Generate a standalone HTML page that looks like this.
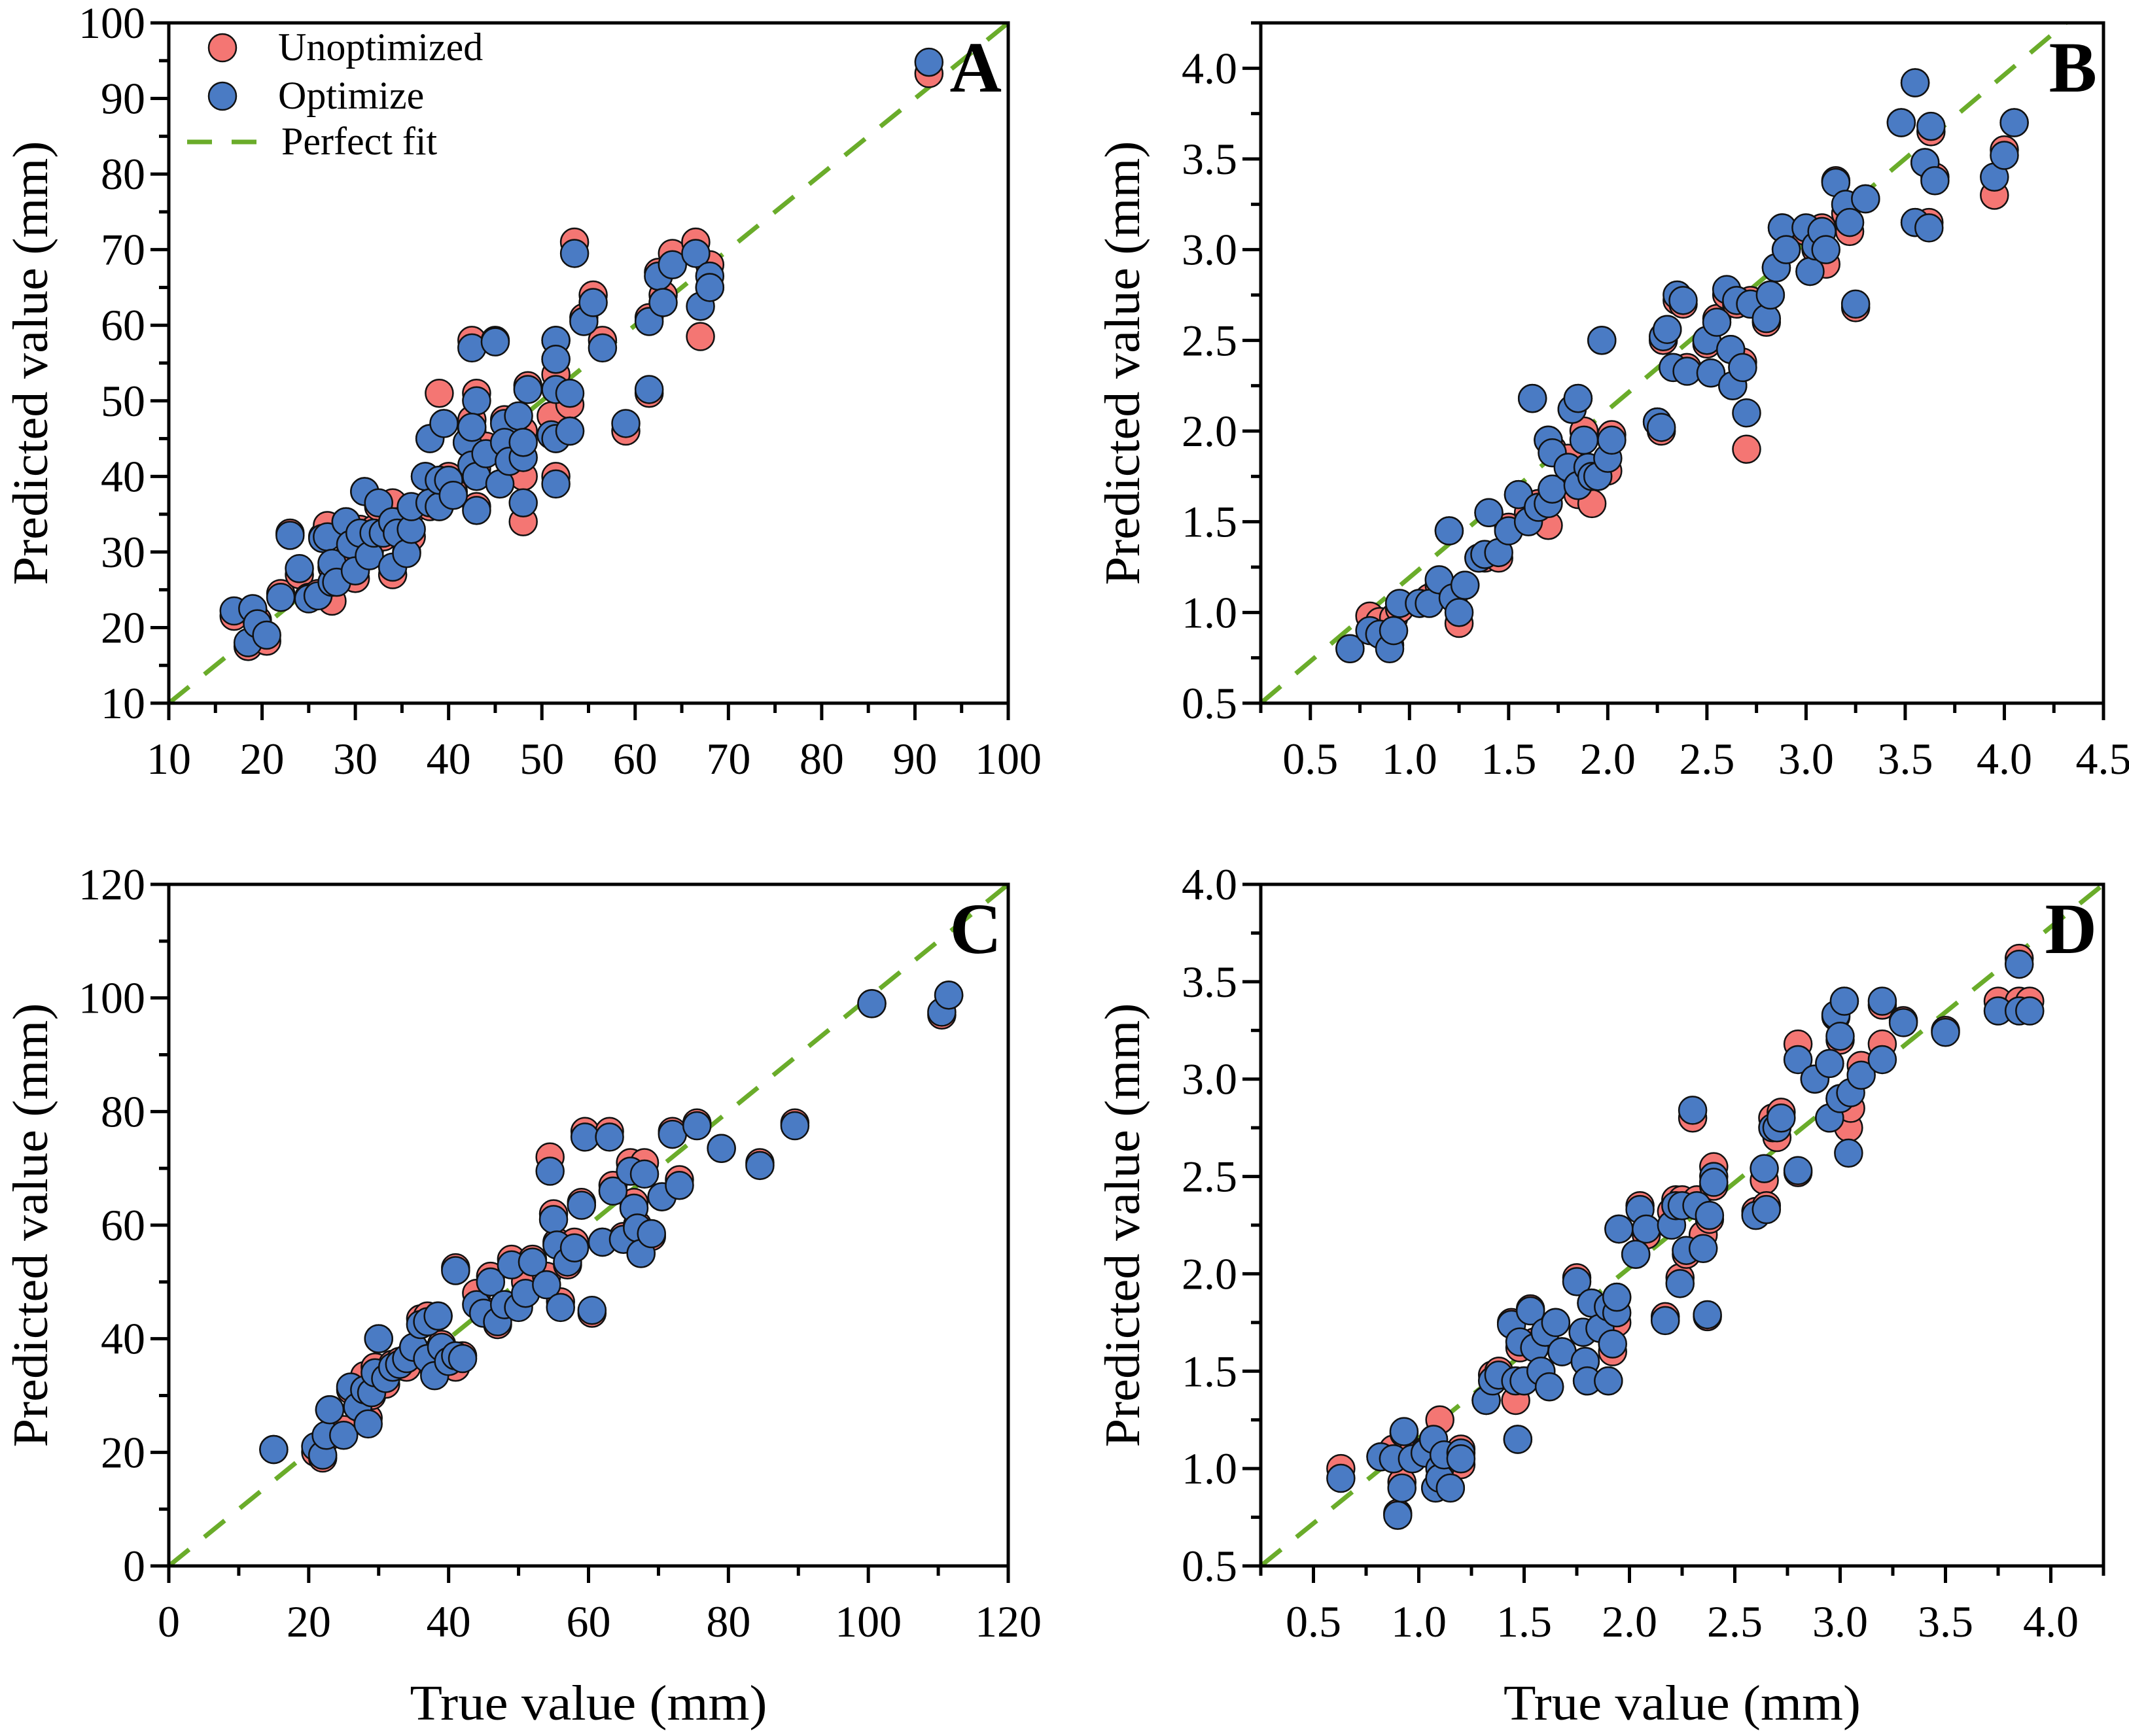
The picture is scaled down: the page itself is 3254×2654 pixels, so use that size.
<!DOCTYPE html>
<html><head><meta charset="utf-8"><style>
html,body{margin:0;padding:0;background:#fff}
svg{display:block}
text{font-family:"Liberation Serif","Times New Roman",serif;fill:#000}
</style></head><body>
<svg id="chart" width="3254" height="2654" viewBox="0 0 3254 2654" xmlns="http://www.w3.org/2000/svg"></svg>
<script>
// Panel A data
const aTrue=[91.5,17,18.5,19,19.5,20.5,22,23,24,25,26,26.5,27,27.5,27.5,28,29,29.5,30,30.5,31,31.5,32,32.5,33,34,34,34.5,35.5,36,36,37.5,38,38,39,39,39.5,40,40.5,42,42.5,42.5,43,42.5,43,43,44,45,45.5,46,46,46.5,47.5,48,48,48.5,48,51,51.5,51.5,51.5,51.5,51.5,53,53,53.5,54.5,55.5,56.5,59,61.5,61.5,62.5,63,64,66.5,67,68,68];
const aUnopt=[93.3,21.5,17.5,22,21,18.2,24.5,32.5,27,24,24.5,32,33.5,23.5,28,26.5,34,30,26.5,33,38,30,33,36,32,36.5,27,34,30,32,35.5,40,36,45,36,51,47,40,38,44.5,58,47.5,51,46,36,41,44,58,39,47.5,44,42,47,40,34,52,46,48,53.5,58,40,45,55.5,49.5,46,71,61,64,58,46,51,61,67,64,69.5,71,58.5,68,65];
const aOpt=[94.8,22.2,18,22.5,20.5,19,24,32.2,27.8,23.8,24.2,31.8,32,26,28.5,26,34,31,27.5,32.5,38,29.5,32.5,36.5,32.5,34,28,32.5,29.8,33,36,40,36.5,45,36,39.5,47,39.5,37.5,44.5,57,41.5,50,46.5,35.5,40,43,57.8,39,47,44.5,42,48,42.5,36.5,51.5,44.5,45.5,51.5,58,39,45,55.5,51,46,69.5,60.5,63,57,47,51.5,60.5,66.5,63,68,69.5,62.5,66.5,65];
// Panel B data
const bTrue=[0.7,0.8,0.85,0.9,0.92,0.95,1.05,1.1,1.15,1.2,1.22,1.25,1.28,1.35,1.4,1.38,1.45,1.5,1.55,1.6,1.62,1.65,1.7,1.7,1.72,1.72,1.8,1.82,1.85,1.85,1.88,1.9,1.92,1.95,1.97,2.0,2.02,2.25,2.27,2.28,2.3,2.33,2.35,2.38,2.4,2.5,2.52,2.55,2.6,2.62,2.63,2.65,2.68,2.7,2.72,2.8,2.82,2.85,2.88,2.9,3.0,3.02,3.05,3.08,3.1,3.15,3.2,3.22,3.25,3.3,3.48,3.55,3.55,3.6,3.62,3.63,3.65,3.95,4.0,4.05];
const bUnopt=[0.8,0.98,0.95,0.82,0.97,1.02,1.05,1.08,1.15,1.45,1.1,0.94,1.15,1.3,1.55,1.3,1.3,1.47,1.65,1.55,2.18,1.6,1.48,1.95,1.9,1.68,1.85,2.12,2.18,1.65,2.0,1.8,1.6,1.75,2.5,1.78,1.98,2.05,2.0,2.5,2.56,2.35,2.72,2.7,2.35,2.48,2.32,2.62,2.75,2.45,2.25,2.7,2.38,1.9,2.72,2.6,2.75,2.9,3.12,3.0,3.1,2.88,3.0,3.12,2.92,3.38,3.2,3.1,2.68,3.28,3.7,3.92,3.15,3.48,3.15,3.65,3.4,3.3,3.55,3.7];
const bOpt=[0.8,0.9,0.88,0.8,0.9,1.05,1.05,1.05,1.18,1.45,1.08,1.0,1.15,1.3,1.55,1.32,1.33,1.45,1.65,1.5,2.18,1.58,1.6,1.95,1.88,1.68,1.8,2.12,2.18,1.7,1.95,1.8,1.75,1.75,2.5,1.85,1.95,2.05,2.02,2.52,2.56,2.35,2.75,2.72,2.33,2.5,2.32,2.6,2.78,2.45,2.25,2.72,2.35,2.1,2.7,2.62,2.75,2.9,3.12,3.0,3.12,2.88,3.02,3.1,3.0,3.37,3.25,3.15,2.7,3.28,3.7,3.92,3.15,3.48,3.12,3.68,3.38,3.4,3.52,3.7];
// Panel C data
const cTrue=[15,21,22,22.5,23,25,26,27,28,28.5,29,29.5,30,31,32,33,34,35,36,37,37,38,38.5,39,40,41,41,42,44,45,46,47,48,49,50,51,52,54,54.5,55,55.5,56,57,58,59,59.5,60.5,62,63,63.5,65,66,66.5,67,67.5,68,69,70.5,72,73,75.5,79,84.5,89.5,100.5,110.5,111.5];
const cUnopt=[20.5,20,19,22.5,27.5,24,31,28,33.5,26,30,35,40,32,35.5,36,35,38.5,43.5,44,37,34,44,39,36,35,52.5,37,48,45,51,42.5,46,54,46,50,54,51,72,62,57,46.5,53,57,64,76.5,44.5,57,76.5,67,58,71,64,60,55,71,58,65,76.5,68,78,73.5,71,78,99,97,100.5];
const cOpt=[20.5,21,19.5,23,27.5,23,31.5,28,31,25,30.5,34,40,33,35,35.5,36.5,38.5,42.5,43,36.5,33.5,44,38.5,36,37,52,36.5,46,44.5,50,43,46,53,45.5,48,53.5,49.5,69.5,61,56.5,45.5,53.5,56,63.5,75.5,45,57,75.5,66,57.5,69.5,63,59.5,55,69,58.5,65,76,67,77.5,73.5,70.5,77.5,99,97.5,100.5];
// Panel D data
const dTrue=[0.63,0.82,0.88,0.9,0.92,0.93,0.97,1.03,1.07,1.08,1.1,1.1,1.12,1.15,1.2,1.2,1.32,1.35,1.38,1.44,1.46,1.47,1.48,1.5,1.53,1.55,1.58,1.6,1.62,1.65,1.68,1.75,1.78,1.79,1.8,1.82,1.86,1.9,1.9,1.92,1.94,1.94,1.95,2.03,2.05,2.08,2.17,2.2,2.22,2.24,2.25,2.27,2.3,2.32,2.35,2.37,2.38,2.4,2.4,2.6,2.64,2.65,2.68,2.7,2.72,2.8,2.8,2.88,2.95,2.95,2.98,3.0,3.0,3.02,3.04,3.05,3.1,3.2,3.2,3.3,3.5,3.75,3.85,3.85,3.9];
const dUnopt=[1.0,1.06,1.1,0.77,0.93,1.18,1.08,1.09,1.15,0.9,1.25,0.95,1.05,0.9,1.1,1.02,1.35,1.48,1.5,1.75,1.35,1.15,1.62,1.45,1.82,1.65,1.5,1.7,1.42,1.75,1.6,1.98,1.7,1.55,1.45,1.85,1.72,1.45,1.82,1.6,1.75,1.88,2.23,2.1,2.35,2.2,1.78,2.32,2.38,1.98,2.38,2.1,2.8,2.38,2.2,1.78,2.28,2.55,2.45,2.32,2.48,2.35,2.8,2.7,2.83,2.52,3.18,3.0,3.08,2.8,3.32,3.2,2.9,3.4,2.75,2.85,3.07,3.38,3.18,3.3,3.25,3.4,3.62,3.4,3.4];
const dOpt=[0.95,1.06,1.05,0.76,0.9,1.19,1.05,1.08,1.15,0.9,1.0,0.95,1.07,0.9,1.08,1.05,1.35,1.45,1.48,1.74,1.45,1.15,1.65,1.45,1.81,1.62,1.5,1.7,1.42,1.75,1.6,1.96,1.7,1.55,1.45,1.85,1.72,1.45,1.83,1.64,1.8,1.88,2.23,2.1,2.33,2.23,1.76,2.25,2.35,1.95,2.35,2.12,2.84,2.35,2.13,1.79,2.3,2.5,2.47,2.3,2.54,2.33,2.75,2.75,2.8,2.53,3.1,3.0,3.08,2.8,3.33,3.22,2.9,3.4,2.62,2.93,3.02,3.4,3.1,3.29,3.24,3.35,3.59,3.35,3.35];

const xTicksA=[10,20,30,40,50,60,70,80,90,100];
const yTicksA=[10,20,30,40,50,60,70,80,90,100];
const xTicksB=[0.5,1.0,1.5,2.0,2.5,3.0,3.5,4.0,4.5];
const yTicksB=[0.5,1.0,1.5,2.0,2.5,3.0,3.5,4.0];
const xTicksC=[0,20,40,60,80,100,120];
const yTicksC=[0,20,40,60,80,100,120];
const xTicksD=[0.5,1.0,1.5,2.0,2.5,3.0,3.5,4.0];
const yTicksD=[0.5,1.0,1.5,2.0,2.5,3.0,3.5,4.0];
// reference line endpoints [x0,y0,x1,y1] in data units
const fitA=[10,10,100,100];
const fitB=[0.25,0.5,4.31,4.25];
const fitC=[0,0,120,120];
const fitD=[0.25,0.5,4.25,4.0];

const NS="http://www.w3.org/2000/svg";
const FONT='"Liberation Serif","Times New Roman",serif';
const svg=document.getElementById('chart');
function mk(tag,attrs,parent){const e=document.createElementNS(NS,tag);for(const k in attrs)e.setAttribute(k,attrs[k]);if(tag==='text')e.setAttribute('font-family',FONT);(parent||svg).appendChild(e);return e;}

const panels=[
 {id:'a',L:258,R:1541,T:35,B:1075,x0:10,x1:100,y0:10,y1:100,xt:xTicksA,yt:yTicksA,xm:5,ym:5,dec:0,tx:aTrue,u:aUnopt,o:aOpt,fit:fitA,letter:'A',xtitle:false},
 {id:'b',L:1927,R:3215,T:35,B:1075,x0:0.25,x1:4.5,y0:0.5,y1:4.25,xt:xTicksB,yt:yTicksB,xm:0.25,ym:0.25,dec:1,tx:bTrue,u:bUnopt,o:bOpt,fit:fitB,letter:'B',xtitle:false},
 {id:'c',L:258,R:1541,T:1352,B:2394,x0:0,x1:120,y0:0,y1:120,xt:xTicksC,yt:yTicksC,xm:10,ym:10,dec:0,tx:cTrue,u:cUnopt,o:cOpt,fit:fitC,letter:'C',xtitle:true},
 {id:'d',L:1927,R:3215,T:1352,B:2394,x0:0.25,x1:4.25,y0:0.5,y1:4.0,xt:xTicksD,yt:yTicksD,xm:0.25,ym:0.25,dec:1,tx:dTrue,u:dUnopt,o:dOpt,fit:fitD,letter:'D',xtitle:true}
];

panels.forEach(p=>{
  const sx=v=>p.L+(v-p.x0)/(p.x1-p.x0)*(p.R-p.L);
  const sy=v=>p.B-(v-p.y0)/(p.y1-p.y0)*(p.B-p.T);
  const g=mk('g',{});
  
  
  const cp=mk('clipPath',{id:'clip-'+p.id},g);
  mk('rect',{x:p.L,y:p.T,width:p.R-p.L,height:p.B-p.T},cp);
  const ax=mk('g',{},g);
  
  
  for(let v=p.x0;v<=p.x1+1e-9;v+=p.xm){
    const isMaj=p.xt.some(t=>Math.abs(t-v)<1e-6);
    const t=mk('line',{x1:sx(v),x2:sx(v),y1:p.B,y2:p.B+(isMaj?26:15),stroke:'#000','stroke-width':5},ax);
    
  }
  for(let v=p.y0;v<=p.y1+1e-9;v+=p.ym){
    const isMaj=p.yt.some(t=>Math.abs(t-v)<1e-6);
    const t=mk('line',{y1:sy(v),y2:sy(v),x1:p.L,x2:p.L-(isMaj?28:15),stroke:'#000','stroke-width':5},ax);
    
  }
  p.xt.forEach(v=>{
    const t=mk('text',{x:sx(v),y:p.B+108,'text-anchor':'middle','font-size':68},ax);
    t.textContent=v.toFixed(p.dec);
    
    
  });
  p.yt.forEach(v=>{
    const t=mk('text',{x:p.L-36,y:sy(v)+23,'text-anchor':'end','font-size':68},ax);
    t.textContent=v.toFixed(p.dec);
    
    
  });
  const fit=mk('line',{x1:sx(p.fit[0]),y1:sy(p.fit[1]),x2:sx(p.fit[2]),y2:sy(p.fit[3]),stroke:'#6aac2a','stroke-width':7,'stroke-dasharray':'40 30','clip-path':'url(#clip-'+p.id+')'},g);
  
  
  const gu=mk('g',{},g);
  
  
  p.tx.forEach((v,i)=>{
    const c=mk('circle',{cx:sx(v),cy:sy(p.u[i]),r:21,fill:'#f47673',stroke:'#111','stroke-width':2.5},gu);
    
    
  });
  const go=mk('g',{},g);
  
  
  p.tx.forEach((v,i)=>{
    const c=mk('circle',{cx:sx(v),cy:sy(p.o[i]),r:21,fill:'#4a7bc4',stroke:'#111','stroke-width':2.5},go);
    
    
  });
  const fr=mk('rect',{x:p.L,y:p.T,width:p.R-p.L,height:p.B-p.T,fill:'none',stroke:'#000','stroke-width':5},g);
  
  
  const lt=mk('text',{x:p.R-10,y:p.T+105,'text-anchor':'end','font-size':110,'font-weight':'bold'},g);
  lt.textContent=p.letter;
  
  
  const cy=(p.T+p.B)/2, tx=p.L-186;
  const yt=mk('text',{x:tx,y:cy,'text-anchor':'middle','font-size':76,transform:'rotate(-90 '+tx+' '+cy+')',textLength:679,lengthAdjust:'spacingAndGlyphs'},g);
  yt.textContent='Predicted value (mm)';
  
  
  if(p.xtitle){
    const xt=mk('text',{x:(p.L+p.R)/2,y:2629,'text-anchor':'middle','font-size':76,textLength:546,lengthAdjust:'spacingAndGlyphs'},g);
    xt.textContent='True value (mm)';
    
    
  }
});

const lg=mk('g',{});


const l1=mk('circle',{cx:340,cy:73,r:21,fill:'#f47673',stroke:'#111','stroke-width':2.5},lg);


const t1=mk('text',{x:425,y:92,'font-size':60},lg);t1.textContent='Unoptimized';


const l2=mk('circle',{cx:340,cy:147,r:21,fill:'#4a7bc4',stroke:'#111','stroke-width':2.5},lg);


const t2=mk('text',{x:425,y:166,'font-size':60},lg);t2.textContent='Optimize';


const l3=mk('line',{x1:286,y1:217,x2:392,y2:217,stroke:'#6aac2a','stroke-width':7,'stroke-dasharray':'38 30'},lg);


const t3=mk('text',{x:430,y:236,'font-size':60},lg);t3.textContent='Perfect fit';


</script>
</body></html>
